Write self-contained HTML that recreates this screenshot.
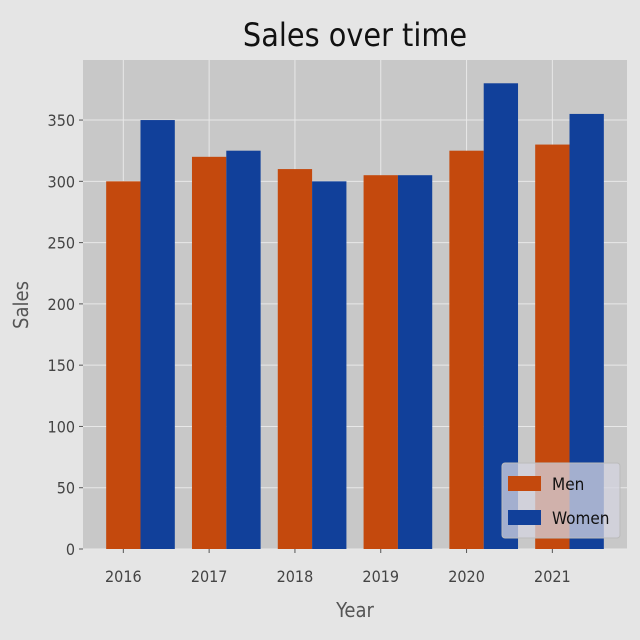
<!DOCTYPE html>
<html><head><meta charset="utf-8"><style>
body{margin:0;background:#e5e5e5;}
svg{display:block;font-family:"DejaVu Sans Condensed","Liberation Sans Narrow","Liberation Sans",sans-serif;}
</style></head><body>
<svg id="c" width="640" height="640">
<rect width="640" height="640" fill="#e5e5e5"/>
</svg>
<script>
const years=["2016","2017","2018","2019","2020","2021"];
const men=[300,320,310,305,325,330];
const women=[350,325,300,305,380,355];
const yTicks=[0,50,100,150,200,250,300,350];
const L=83,R=627,T=60,B=549,ymax=399,xmin=-0.47,xmax=5.87,bw=0.4;
const sx=v=>L+(v-xmin)/(xmax-xmin)*(R-L);
const sy=v=>B-v/ymax*(B-T);
const svg=document.getElementById('c');const NS="http://www.w3.org/2000/svg";
function mk(t,a,p){const e=document.createElementNS(NS,t);for(const k in a)e.setAttribute(k,a[k]);(p||svg).appendChild(e);return e;}
const ax=mk('rect',{x:L,y:T,width:R-L,height:B-T,fill:'#c8c8c8'});


yTicks.forEach(v=>{
 const g=mk('line',{x1:L,x2:R,y1:sy(v),y2:sy(v),stroke:'#e8e8e8','stroke-width':1});
 
 
 const t=mk('text',{x:L-8,y:sy(v)+6,'text-anchor':'end','font-size':16,fill:'#444'});t.textContent=v;
 
 
 mk('line',{x1:L-4,x2:L,y1:sy(v),y2:sy(v),stroke:'#555'});
});
years.forEach((y,i)=>{
 const g=mk('line',{x1:sx(i),x2:sx(i),y1:T,y2:B,stroke:'#e8e8e8','stroke-width':1});
 
 
});
years.forEach((y,i)=>{
 const m=mk('rect',{x:sx(i-bw/2),y:sy(men[i]),width:sx(bw)-sx(0),height:B-sy(men[i]),fill:'#c4490d'});
 
 
 const w=mk('rect',{x:sx(i+bw/2),y:sy(women[i]),width:sx(bw)-sx(0),height:B-sy(women[i]),fill:'#11409a'});
 
 
 mk('line',{x1:sx(i),x2:sx(i),y1:B,y2:B+4,stroke:'#555'});
 const t=mk('text',{x:sx(i),y:B+33,'text-anchor':'middle','font-size':16,fill:'#444'});t.textContent=y;
 
 
});
const ti=mk('text',{x:355,y:46,'text-anchor':'middle','font-size':32,fill:'#111'});ti.textContent='Sales over time';


const xl=mk('text',{x:355,y:617,'text-anchor':'middle','font-size':20,fill:'#555'});xl.textContent='Year';


const yl=mk('text',{x:0,y:0,'text-anchor':'middle','font-size':20,fill:'#555',transform:'translate(28,305) rotate(-90)'});yl.textContent='Sales';


const lg=mk('g',{});


mk('rect',{x:502,y:463,width:118,height:75,rx:3,fill:'#d4d4e0','fill-opacity':0.75,stroke:'#bbb'},lg);
[['Men','#c4490d',483],['Women','#11409a',517]].forEach(([n,c,y])=>{
 mk('rect',{x:508,y:y-7,width:33,height:15,fill:c},lg);
 const t=mk('text',{x:552,y:y+7,'font-size':17,fill:'#111'},lg);t.textContent=n;
 
 
});
</script>
</body></html>
